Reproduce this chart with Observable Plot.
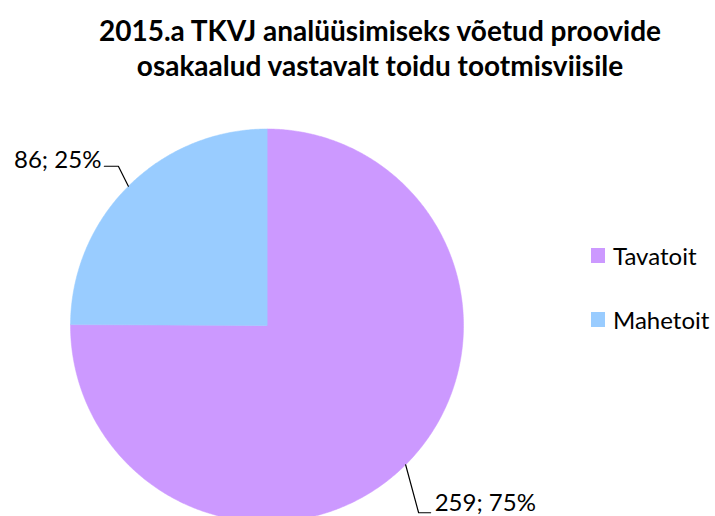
<!DOCTYPE html>
<html>
<head>
<meta charset="utf-8">
<script src="https://cdn.jsdelivr.net/npm/d3@7"></script>
<script src="https://cdn.jsdelivr.net/npm/@observablehq/plot@0.6"></script>
<style>
  html, body { margin: 0; padding: 0; background: #fff; }
  #wrap { position: relative; width: 715px; height: 516px; overflow: hidden; font-family: Lato, "Open Sans", sans-serif; }
  #title { position: absolute; left: 0; width: 760px; top: 13px; text-align: center; font-weight: bold; font-size: 28px; line-height: 35px; color: #000; }
  .leg { position: absolute; left: 591px; display: flex; align-items: center; font-size: 24px; color: #000; }
  .sw { width: 14px; height: 15px; margin-right: 8px; }
  #plot { position: absolute; left: 0; top: 0; }
</style>
</head>
<body>
<div id="wrap">
  <div id="plot"></div>
  <div id="title">2015.a TKVJ analüüsimiseks võetud proovide<br>osakaalud vastavalt toidu tootmisviisile</div>
  <div id="legend"></div>
</div>
<script>
const categories = ["Tavatoit", "Mahetoit"];
const values = [259, 86];
const colors = ["#CC99FF", "#99CCFF"];

// layout
const cx = 266.5, cy = 325, r = 196.5;
const total = d3.sum(values);

const slices = [];
const labels = [];
const leaders = [];
// leader offsets in pixels (elbow dx, dy, then horizontal dx)
const leaderLayout = [
  {e: [13, 48], h: 12, anchor: "start", tdx: 4, tdy: -9},
  {e: [-10, -20], h: -14, anchor: "end", tdx: -3, tdy: -6}
];
let acc = 0;
values.forEach((v, i) => {
  const a0 = acc / total * 2 * Math.PI;
  acc += v;
  const a1 = acc / total * 2 * Math.PI;
  const n = Math.max(2, Math.ceil((a1 - a0) / (Math.PI / 360)));
  slices.push({cat: categories[i], x: 0, y: 0});
  for (let k = 0; k <= n; k++) {
    const a = a0 + (a1 - a0) * k / n;
    slices.push({cat: categories[i], x: Math.sin(a), y: Math.cos(a)});
  }
  const am = (a0 + a1) / 2;
  const ex = Math.sin(am), ey = Math.cos(am);
  const L = leaderLayout[i];
  const bx = ex + L.e[0] / r, by = ey - L.e[1] / r;
  const hx = bx + L.h / r;
  leaders.push({cat: categories[i], x: ex, y: ey});
  leaders.push({cat: categories[i], x: bx, y: by});
  leaders.push({cat: categories[i], x: hx, y: by});
  labels.push({
    cat: categories[i], x: hx, y: by,
    text: `${v}; ${Math.round(v / total * 100)}%`,
    anchor: L.anchor, dx: L.tdx, dy: L.tdy
  });
});

const plot = Plot.plot({
  width: 715, height: 516,
  margin: 0,
  x: {domain: [-1, 1], range: [cx - r, cx + r], axis: null},
  y: {domain: [-1, 1], range: [cy + r, cy - r], axis: null},
  style: {fontFamily: "Lato, 'Open Sans', sans-serif", background: "white"},
  marks: [
    ...categories.map((c, i) => Plot.line(slices.filter(d => d.cat === c), {
      x: "x", y: "y", fill: colors[i], stroke: colors[i], strokeWidth: 0.5, curve: "linear-closed"
    })),
    Plot.line(leaders, {x: "x", y: "y", z: "cat", stroke: "black", strokeWidth: 1.2}),
    ...labels.map(l => Plot.text([l], {
      x: "x", y: "y", text: "text", textAnchor: l.anchor, dx: l.dx, dy: l.dy,
      fontSize: 24, fill: "black", lineAnchor: "middle"
    }))
  ]
});
document.getElementById("plot").appendChild(plot);

const legend = document.getElementById("legend");
const legTops = [241, 305];
categories.forEach((c, i) => {
  const div = document.createElement("div");
  div.className = "leg";
  div.style.top = legTops[i] + "px";
  div.innerHTML = `<span class="sw" style="background:${colors[i]}"></span><span>${c}</span>`;
  legend.appendChild(div);
});
</script>
</body>
</html>
